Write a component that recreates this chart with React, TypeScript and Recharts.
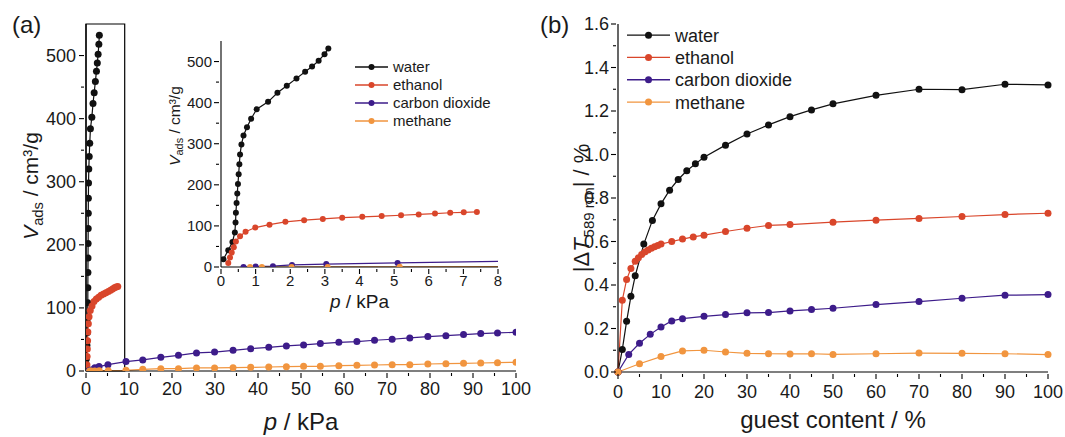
import React from 'react';
import { LineChart, Line, XAxis, YAxis, ReferenceArea, Label, Legend } from 'recharts';

const FONT = '"Liberation Sans", Arial, Helvetica, sans-serif';
const INK = '#1a1a1a';

const NAMES = ['water', 'ethanol', 'carbon dioxide', 'methane'];
const COLORS = ['#111111', '#d9462b', '#3d1c8a', '#f1953f'];

// (a) adsorption isotherms, p in kPa, V in cm3/g
const waterP = [0.07, 0.21, 0.33, 0.4, 0.42, 0.43, 0.45, 0.47, 0.49, 0.51, 0.53, 0.55, 0.59, 0.65, 0.75, 0.87, 1.03, 1.36, 1.63, 1.9, 2.18, 2.43, 2.63, 2.82, 2.99, 3.1];
const waterV = [19, 41, 61, 84, 108, 132, 156, 179, 202, 226, 250, 274, 298, 320, 340, 361, 384, 402, 424, 441, 459, 475, 488, 502, 518, 532];
const ethanolP = [0.21, 0.26, 0.31, 0.37, 0.43, 0.55, 0.71, 0.99, 1.4, 1.86, 2.4, 2.94, 3.5, 4.08, 4.64, 5.2, 5.71, 6.18, 6.62, 7.01, 7.39];
const ethanolV = [10, 23, 35, 48, 62, 75, 86, 96, 103, 110, 114, 117, 120, 122, 124, 126, 128, 130, 132, 133, 134];
const co2P = [0.65, 1.0, 1.5, 2.05, 3.04, 5.1, 9.3, 13.2, 17.4, 21.5, 25.7, 29.9, 34.2, 38.3, 42.5, 46.6, 50.6, 54.5, 58.8, 63.0, 67.1, 71.2, 75.3, 79.5, 83.7, 87.8, 91.8, 95.7, 100];
const co2V = [0, 1, 2, 5, 7, 10, 15, 17.5, 21.7, 24.9, 28.6, 30, 32.8, 35.4, 37.6, 39.7, 41.3, 43.4, 45.5, 46.6, 48.7, 50.3, 52.4, 54.5, 56, 57.7, 59.3, 60.3, 61.4];
const methaneP = [0.84, 1.18, 2.04, 3.08, 5.16, 9.3, 13.2, 17.4, 21.5, 25.7, 29.9, 34.2, 38.3, 42.5, 46.6, 50.6, 54.5, 58.8, 63.0, 67.1, 71.2, 75.3, 79.5, 83.7, 87.8, 91.8, 95.7, 100];
const methaneV = [0, 0, 0, 0.3, 0.5, 1, 2.6, 3.7, 3.7, 4.8, 4.8, 5.3, 5.8, 6.3, 6.9, 7.4, 7.4, 8.5, 9, 9.5, 10, 10, 11.1, 11.6, 12.2, 12.7, 13.2, 13.8];

// (b) transmission change vs guest content, %
const waterG = [0, 1, 2, 3, 4, 6, 8, 10, 12, 14, 16, 18, 20, 25, 30, 35, 40, 45, 50, 60, 70, 80, 90, 100];
const waterT = [0, 0.103, 0.233, 0.348, 0.442, 0.588, 0.697, 0.773, 0.836, 0.885, 0.925, 0.957, 0.987, 1.043, 1.094, 1.136, 1.174, 1.205, 1.233, 1.272, 1.3, 1.298, 1.323, 1.32];
const ethanolG = [0, 1, 2, 3, 4, 4.75, 5.5, 6.25, 7, 7.75, 8.5, 9.25, 10, 12.5, 15, 17.5, 20, 25, 30, 35, 40, 50, 60, 70, 80, 90, 100];
const ethanolT = [0, 0.33, 0.425, 0.476, 0.509, 0.525, 0.54, 0.552, 0.561, 0.569, 0.576, 0.582, 0.588, 0.6, 0.611, 0.621, 0.629, 0.646, 0.661, 0.674, 0.678, 0.689, 0.698, 0.706, 0.715, 0.724, 0.73];
const co2G = [0, 2.5, 5, 7.5, 10, 12.5, 15, 20, 25, 30, 35, 40, 45, 50, 60, 70, 80, 90, 100];
const co2T = [0, 0.081, 0.132, 0.173, 0.207, 0.235, 0.245, 0.256, 0.264, 0.272, 0.273, 0.281, 0.287, 0.293, 0.31, 0.324, 0.339, 0.353, 0.356];
const methaneG = [0, 5, 10, 15, 20, 25, 30, 35, 40, 45, 50, 60, 70, 80, 90, 100];
const methaneT = [0, 0.038, 0.071, 0.097, 0.1, 0.092, 0.086, 0.084, 0.083, 0.084, 0.081, 0.084, 0.087, 0.086, 0.084, 0.08];

// major tick values; minor ticks sit halfway between
const A_X_MAJOR = [0, 10, 20, 30, 40, 50, 60, 70, 80, 90, 100];
const A_Y_MAJOR = [0, 100, 200, 300, 400, 500];
const INSET_X_MAJOR = [0, 1, 2, 3, 4, 5, 6, 7, 8];
const B_X_MAJOR = [0, 10, 20, 30, 40, 50, 60, 70, 80, 90, 100];
const B_Y_MAJOR = [0, 0.2, 0.4, 0.6, 0.8, 1.0, 1.2, 1.4, 1.6];

const withMinor = (major: number[]) => {
  const out: number[] = [];
  major.forEach((v, i) => {
    out.push(v);
    if (i < major.length - 1) out.push((v + major[i + 1]) / 2);
  });
  return out;
};

const pts = (xs: number[], ys: number[]) => xs.map((x, i) => ({ x, y: ys[i] }));

const seriesA = [pts(waterP, waterV), pts(ethanolP, ethanolV), pts(co2P, co2V), pts(methaneP, methaneV)];
const seriesB = [pts(waterG, waterT), pts(ethanolG, ethanolT), pts(co2G, co2T), pts(methaneG, methaneT)];

const isOn = (v: number, step: number) => Math.abs(v / step - Math.round(v / step)) < 1e-6;

const xTick = (step: number, fs: number, gap: number, fmt = (v: number) => String(v)) => (props: any) => {
  const { x, y, payload } = props;
  const major = isOn(payload.value, step);
  return (
    <g>
      <line x1={x} x2={x} y1={y} y2={y + (major ? 5 : 3)} stroke="#000" strokeWidth={1.1} />
      {major && (
        <text x={x} y={y + gap} dy="0.72em" textAnchor="middle" fontSize={fs} fill={INK} fontFamily={FONT}>
          {fmt(payload.value)}
        </text>
      )}
    </g>
  );
};

const yTick = (step: number, fs: number, gap: number, fmt = (v: number) => String(v)) => (props: any) => {
  const { x, y, payload } = props;
  const major = isOn(payload.value, step);
  return (
    <g>
      <line x1={x} x2={x - (major ? 5 : 3)} y1={y} y2={y} stroke="#000" strokeWidth={1.1} />
      {major && (
        <text x={x - gap} y={y} dy="0.36em" textAnchor="end" fontSize={fs} fill={INK} fontFamily={FONT}>
          {fmt(payload.value)}
        </text>
      )}
    </g>
  );
};

const legendContent = (lineLen: number, rowH: number, fs: number, r: number) => (props: any) => {
  const items = [...(props.payload || [])].sort(
    (a: any, b: any) => NAMES.indexOf(a.value) - NAMES.indexOf(b.value)
  );
  return (
    <svg width={lineLen + 10 + fs * 8} height={rowH * items.length} style={{ display: 'block', overflow: 'visible' }}>
      {items.map((it: any, i: number) => {
        const cy = rowH * i + rowH / 2;
        return (
          <g key={it.value}>
            <line x1={0} x2={lineLen} y1={cy} y2={cy} stroke={it.color} strokeWidth={1.3} />
            <circle cx={lineLen / 2} cy={cy} r={r} fill={it.color} />
            <text x={lineLen + 5} y={cy} dy="0.36em" fontSize={fs} fill={INK} fontFamily={FONT}>
              {it.value}
            </text>
          </g>
        );
      })}
    </svg>
  );
};

const vadsTitle = (cx: number, cy: number, fs: number) => (
  <text
    x={cx}
    y={cy}
    transform={`rotate(-90 ${cx} ${cy})`}
    textAnchor="middle"
    dy="0.36em"
    fontSize={fs}
    fill={INK}
    fontFamily={FONT}
  >
    <tspan fontStyle="italic">V</tspan>
    <tspan fontSize={fs * 0.7} dy={fs * 0.25}>ads</tspan>
    <tspan dy={-fs * 0.25}> / cm³/g</tspan>
  </text>
);

const pTitle = (cx: number, y: number, fs: number) => (
  <text x={cx} y={y} textAnchor="middle" fontSize={fs} fill={INK} fontFamily={FONT}>
    <tspan fontStyle="italic">p</tspan>
    <tspan> / kPa</tspan>
  </text>
);

function lines(data: { x: number; y: number }[][], r: number) {
  return data.map((d, i) => (
    <Line
      key={NAMES[i]}
      data={d}
      dataKey="y"
      name={NAMES[i]}
      type="linear"
      stroke={COLORS[i]}
      strokeWidth={1.2}
      dot={{ r, fill: COLORS[i], stroke: COLORS[i], strokeWidth: 0 }}
      activeDot={false}
      isAnimationActive={false}
    />
  ));
}

export default function App() {
  return (
    <div style={{ position: 'absolute', left: 0, top: 0, width: 1065, height: 437, background: '#fff', fontFamily: FONT }}>
      {/* (a) main isotherm */}
      <div style={{ position: 'absolute', left: 0, top: 0 }}>
        <LineChart width={540} height={437} margin={{ top: 24, right: 24, bottom: 0, left: 0 }}>
          <XAxis
            dataKey="x"
            type="number"
            domain={[0, 100]}
            ticks={withMinor(A_X_MAJOR)}
            interval={0}
            tickSize={0}
            tickLine={false}
            tick={xTick(10, 18, 9)}
            axisLine={{ stroke: '#000', strokeWidth: 1.2 }}
            height={66}
            allowDataOverflow
          >
            <Label content={(p: any) => pTitle(p.viewBox.x + p.viewBox.width / 2, p.viewBox.y + 59, 24)} />
          </XAxis>
          <YAxis
            type="number"
            domain={[0, 550]}
            ticks={withMinor(A_Y_MAJOR)}
            interval={0}
            tickSize={0}
            tickLine={false}
            tick={yTick(100, 18, 8)}
            axisLine={{ stroke: '#000', strokeWidth: 1.2 }}
            width={86}
            allowDataOverflow
          >
            <Label content={() => vadsTitle(30, 186, 21)} />
          </YAxis>
          <ReferenceArea x1={0} x2={9} y1={0} y2={550} fill="none" stroke="#000" strokeWidth={1.2} ifOverflow="visible" />
          {lines(seriesA, 3.5)}
        </LineChart>
      </div>

      {/* (a) inset, 0-8 kPa */}
      <div style={{ position: 'absolute', left: 160, top: 30 }}>
        <LineChart width={350} height={290} margin={{ top: 11, right: 12, bottom: 0, left: 0 }}>
          <XAxis
            dataKey="x"
            type="number"
            domain={[0, 8]}
            ticks={withMinor(INSET_X_MAJOR)}
            interval={0}
            tickSize={0}
            tickLine={false}
            tick={xTick(1, 15, 6)}
            axisLine={{ stroke: '#000', strokeWidth: 1.1 }}
            height={53}
            allowDataOverflow
          >
            <Label content={(p: any) => pTitle(p.viewBox.x + p.viewBox.width / 2, p.viewBox.y + 41, 19)} />
          </XAxis>
          <YAxis
            type="number"
            domain={[0, 550]}
            ticks={withMinor(A_Y_MAJOR)}
            interval={0}
            tickSize={0}
            tickLine={false}
            tick={yTick(100, 15, 7)}
            axisLine={{ stroke: '#000', strokeWidth: 1.1 }}
            width={61}
            allowDataOverflow
          >
            <Label content={() => vadsTitle(14, 96, 15.5)} />
          </YAxis>
          <Legend
            layout="vertical"
            align="center"
            verticalAlign="middle"
            wrapperStyle={{ left: 195, top: 28, width: 160 }}
            content={legendContent(33, 18, 15, 3)}
          />
          {lines(seriesA, 3)}
        </LineChart>
      </div>

      {/* (b) transmission change */}
      <div style={{ position: 'absolute', left: 540, top: 0 }}>
        <LineChart width={525} height={437} margin={{ top: 24, right: 17, bottom: 0, left: 0 }}>
          <XAxis
            dataKey="x"
            type="number"
            domain={[0, 100]}
            ticks={withMinor(B_X_MAJOR)}
            interval={0}
            tickSize={0}
            tickLine={false}
            tick={xTick(10, 18, 11)}
            axisLine={{ stroke: '#000', strokeWidth: 1.2 }}
            height={65}
          >
            <Label
              content={(p: any) => (
                <text
                  x={p.viewBox.x + p.viewBox.width / 2}
                  y={p.viewBox.y + 56}
                  textAnchor="middle"
                  fontSize={24}
                  fill={INK}
                  fontFamily={FONT}
                >
                  guest content / %
                </text>
              )}
            />
          </XAxis>
          <YAxis
            type="number"
            domain={[0, 1.6]}
            ticks={withMinor(B_Y_MAJOR)}
            interval={0}
            tickSize={0}
            tickLine={false}
            tick={yTick(0.2, 18, 7, (v) => v.toFixed(1))}
            axisLine={{ stroke: '#000', strokeWidth: 1.2 }}
            width={78}
          >
            <Label
              content={() => {
                const cx = 41;
                const cy = 208;
                return (
                  <text
                    x={cx}
                    y={cy}
                    transform={`rotate(-90 ${cx} ${cy})`}
                    textAnchor="middle"
                    dy="0.36em"
                    fontSize={22}
                    fill={INK}
                    fontFamily={FONT}
                  >
                    <tspan>|Δ</tspan>
                    <tspan fontStyle="italic">T</tspan>
                    <tspan fontSize={15} dx={1} dy={5}>589 nm</tspan>
                    <tspan dy={-5}>| / %</tspan>
                  </text>
                );
              }}
            />
          </YAxis>
          <Legend
            layout="vertical"
            align="center"
            verticalAlign="middle"
            wrapperStyle={{ left: 87, top: 24, width: 200 }}
            content={legendContent(43, 22.3, 18, 3.5)}
          />
          {lines(seriesB, 3.5)}
        </LineChart>
      </div>

      {/* panel letters */}
      <svg width={1065} height={437} style={{ position: 'absolute', left: 0, top: 0, pointerEvents: 'none' }}>
        <text x={12} y={33} fontSize={24} fill={INK} fontFamily={FONT}>(a)</text>
        <text x={540} y={33} fontSize={24} fill={INK} fontFamily={FONT}>(b)</text>
      </svg>
    </div>
  );
}
